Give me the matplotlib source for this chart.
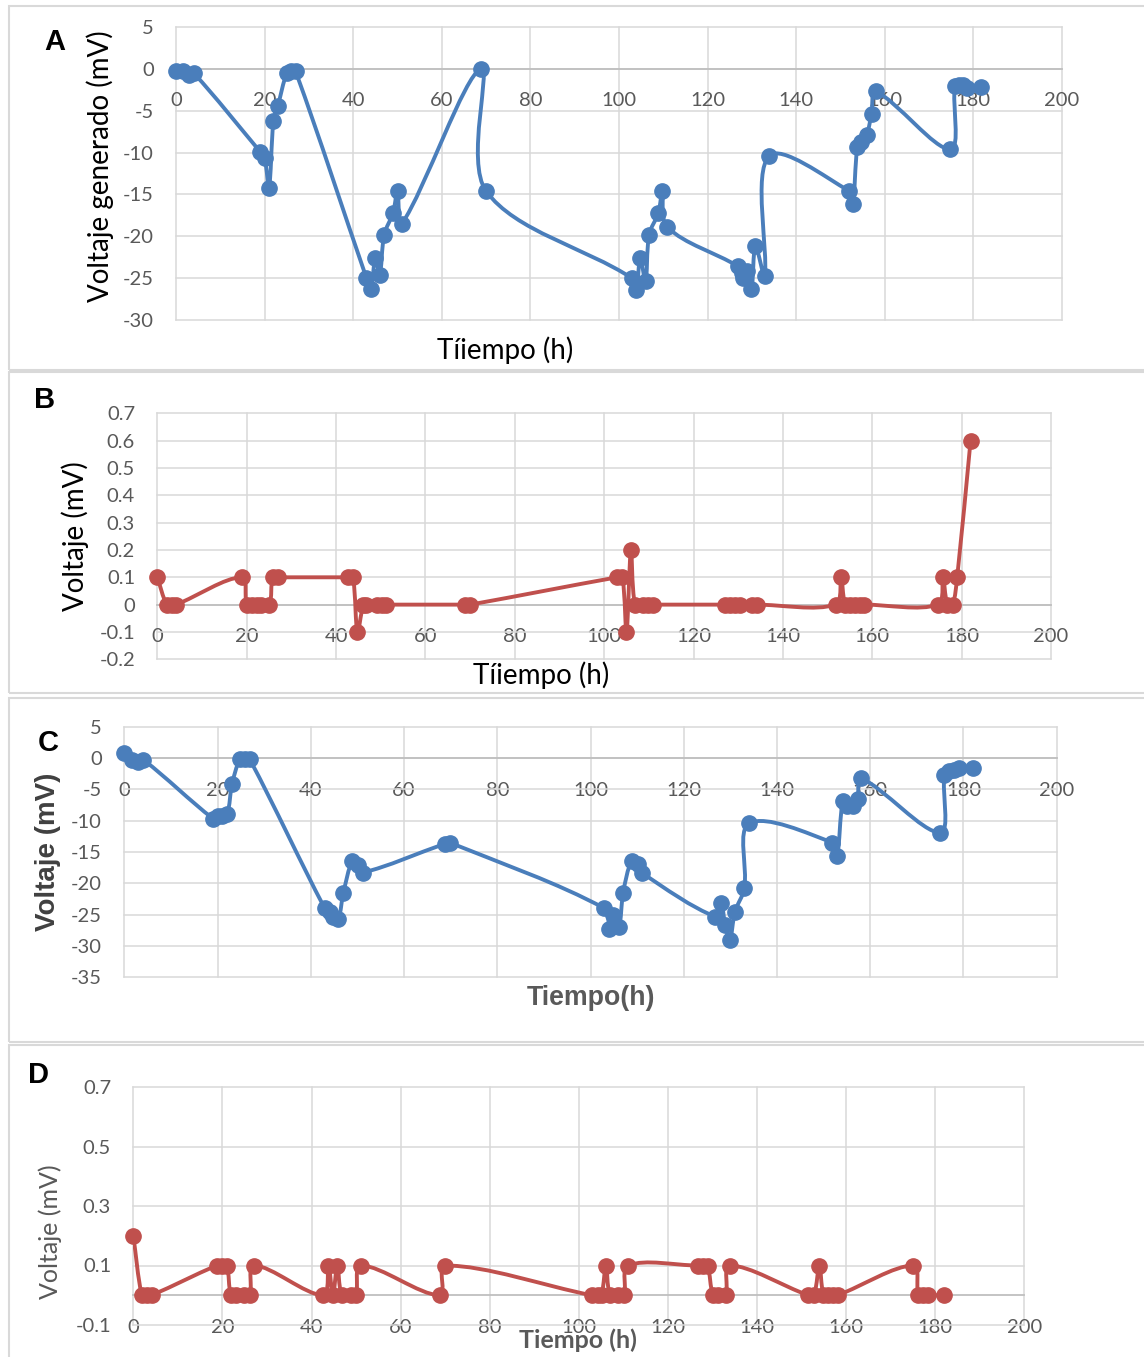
import numpy as np
import matplotlib
matplotlib.use("Agg")
import matplotlib.pyplot as plt
from matplotlib.path import Path
from matplotlib.patches import PathPatch, Rectangle

# ---- datos ----
tA = [0, 1.6, 3, 4, 19, 20, 21, 22, 23, 25, 26, 27, 43, 44, 45, 46, 47, 49, 50, 51,
      68.8, 70, 102.9, 103.9, 104.8, 106, 106.8, 108.9, 109.8, 110.9, 126.9, 127.7,
      128.1, 128.8, 129.9, 130.8, 132.9, 133.9, 152, 152.8, 153.8, 154.7, 155.9, 157,
      158, 174.8, 175.8, 176.8, 177.7, 178.5, 181.8]
vA = [-0.3, -0.3, -0.7, -0.5, -9.9, -10.6, -14.2, -6.2, -4.4, -0.5, -0.3, -0.3,
      -25.0, -26.3, -22.6, -24.6, -19.8, -17.2, -14.6, -18.5, 0.0, -14.6, -25.0, -26.4,
      -22.6, -25.4, -19.8, -17.2, -14.6, -18.9, -23.6, -24.4, -25.0, -24.2, -26.3,
      -21.2, -24.7, -10.4, -14.6, -16.1, -9.3, -8.7, -7.9, -5.4, -2.7, -9.6, -2.0,
      -1.9, -1.9, -2.3, -2.2]

tB = [0, 2.1, 3.2, 4.2, 18.9, 20, 21.1, 22.2, 23.3, 25.1, 25.8, 26.9, 42.7, 43.8,
      44.8, 46.1, 46.8, 49.1, 50.2, 51.2, 68.8, 70, 102.9, 104.1, 105, 106, 106.9,
      108.7, 109.8, 111, 127, 128.1, 129.2, 130.3, 133, 134.1, 151.8, 153, 153.9, 155,
      156.1, 157.2, 158.2, 174.7, 175.8, 176.8, 178, 179, 182]
vB = [0.1, 0, 0, 0, 0.1, 0, 0, 0, 0, 0, 0.1, 0.1, 0.1, 0.1, -0.1, 0, 0, 0, 0, 0,
      0, 0, 0.1, 0.1, -0.1, 0.2, 0, 0, 0, 0, 0, 0, 0, 0, 0, 0, 0, 0.1, 0, 0, 0, 0, 0,
      0, 0.1, 0, 0, 0.1, 0.6]

tC = [0, 1.6, 3, 4.1, 19.1, 20.1, 20.9, 22.1, 23.1, 24.8, 25.9, 26.9, 43, 44.1, 44.8,
      45.9, 47, 48.9, 50.1, 51.1, 68.7, 69.8, 103, 104, 104.8, 106.1, 107, 108.8, 110.1,
      111, 126.7, 128, 128.9, 129.9, 131, 133, 134.1, 151.9, 152.9, 154.1, 155.1, 156.2,
      157.3, 158, 175, 175.9, 176.8, 177.9, 179.1, 182.1]
vC = [0.8, -0.3, -0.7, -0.3, -9.7, -9.3, -9.3, -8.9, -4.2, -0.2, -0.2, -0.2, -24.0,
      -24.5, -25.3, -25.7, -21.5, -16.4, -17.0, -18.3, -13.7, -13.5, -24.0, -27.3,
      -25.0, -26.9, -21.5, -16.4, -16.9, -18.3, -25.3, -23.2, -26.6, -29.0, -24.5,
      -20.8, -10.4, -13.5, -15.6, -6.9, -7.6, -7.6, -6.5, -3.2, -11.9, -2.7, -2.1,
      -1.9, -1.6, -1.6]

tD = [0, 1.9, 3.0, 4.1, 18.7, 19.8, 21, 21.9, 23.1, 24.9, 26.2, 27.1, 42.6, 43.8,
      44.8, 45.8, 46.8, 48.8, 50, 51.1, 68.8, 70, 102.9, 104.2, 105.1, 106.1, 107,
      108.9, 110.2, 111.1, 126.7, 127.8, 128.9, 130.1, 131.3, 133, 133.9, 151.5, 152.8,
      154, 154.9, 156, 157.1, 158.1, 175.1, 176.2, 177.3, 178.4, 182]
vD = [0.2, 0, 0, 0, 0.1, 0.1, 0.1, 0, 0, 0, 0, 0.1, 0, 0.1, 0, 0.1, 0, 0, 0, 0.1,
      0, 0.1, 0, 0, 0, 0.1, 0, 0, 0, 0.1, 0.1, 0.1, 0.1, 0, 0, 0, 0.1, 0, 0, 0.1, 0,
      0, 0, 0, 0.1, 0, 0, 0, 0]

xticks = list(range(0, 201, 20))
yticksA = list(range(-30, 6, 5))
yticksB = [-0.2, -0.1, 0, 0.1, 0.2, 0.3, 0.4, 0.5, 0.6, 0.7]
yticksC = list(range(-35, 6, 5))
yticksD = [-0.1, 0.1, 0.3, 0.5, 0.7]

BLUE = '#4a7ebb'
RED = '#c0504d'
GRID = '#d9d9d9'
TICK = '#595959'
W, H = 1144, 1357

plt.rcParams['font.family'] = ['Lato', 'DejaVu Sans']

fig = plt.figure(figsize=(W / 100, H / 100), dpi=100)


def smooth_path(x, y, sx, sy):
    # linea suavizada tipo Excel: Bezier con tangentes escaladas por la
    # longitud de cada tramo (medida en pixeles)
    p = np.column_stack([x, y]).astype(float)
    q = p * [sx, sy]
    n = len(p)

    def d(i, j):
        return np.hypot(*(q[j] - q[i]))

    verts = [p[0]]
    codes = [Path.MOVETO]
    for i in range(n - 1):
        a = max(i - 1, 0)
        b = min(i + 2, n - 1)
        d12 = d(i, i + 1)
        d01 = d(a, i)
        d23 = d(i + 1, b)
        f1 = d12 / (d01 + d12) / 3 if d01 + d12 > 0 else 0
        f2 = d12 / (d12 + d23) / 3 if d12 + d23 > 0 else 0
        c1 = p[i] + (p[i + 1] - p[a]) * f1
        c2 = p[i + 1] - (p[b] - p[i]) * f2
        verts += [c1, c2, p[i + 1]]
        codes += [Path.CURVE4] * 3
    return Path(verts, codes)


def panel(box, t, v, yticks, ylim, color, ylab_fmt):
    x0, y0, x1, y1 = box
    ax = fig.add_axes([x0 / W, 1 - y1 / H, (x1 - x0) / W, (y1 - y0) / H])
    ax.set_xlim(0, 200)
    ax.set_ylim(*ylim)
    ax.set_xticks(xticks)
    ax.set_yticks(yticks)
    ax.set_yticklabels([ylab_fmt(y) for y in yticks])
    for s in ['top', 'right', 'left']:
        ax.spines[s].set_visible(False)
    ax.spines['bottom'].set_position(('data', 0))
    ax.spines['bottom'].set_color('#bfbfbf')
    ax.spines['bottom'].set_linewidth(1.3)
    ax.grid(True, color=GRID, lw=1.1)
    for gl in ax.get_xgridlines() + ax.get_ygridlines():
        gl.set_clip_on(False)
    ax.tick_params(length=0, labelsize=14.5, labelcolor=TICK)
    ax.tick_params(axis='x', pad=17)
    ax.tick_params(axis='y', pad=16)
    ax.set_axisbelow(True)
    sx = (x1 - x0) / 200.0
    sy = (y1 - y0) / (ylim[1] - ylim[0])
    ax.add_patch(PathPatch(smooth_path(t, v, sx, sy), fill=False, edgecolor=color,
                           lw=2.8, capstyle='round', joinstyle='round', zorder=3))
    ax.plot(t, v, 'o', color=color, ms=11, zorder=4, clip_on=False)
    return ax


def fmt_int(y):
    return str(int(y))


def fmt_dec(y):
    return '0' if abs(y) < 1e-9 else ('%.1f' % y)


panel((176, 27, 1062, 320), tA, vA, yticksA, (-30, 5), BLUE, fmt_int)
panel((157.3, 413.3, 1051, 659.3), tB, vB, yticksB, (-0.2, 0.7), RED, fmt_dec)
panel((124.3, 726.7, 1056.7, 977.3), tC, vC, yticksC, (-35, 5), BLUE, fmt_int)
panel((133.3, 1087, 1024.3, 1325), tD, vD, yticksD, (-0.1, 0.7), RED, fmt_dec)

# marcos de cada grafico
for (bx0, by0, bx1, by1) in [(9, 6, 1150, 370), (9, 372, 1150, 693),
                             (9, 698, 1150, 1042), (9, 1045, 1150, 1365)]:
    fig.add_artist(Rectangle((bx0 / W, 1 - by1 / H), (bx1 - bx0) / W, (by1 - by0) / H,
                             transform=fig.transFigure, fill=False,
                             edgecolor='#d9d9d9', lw=1.5))


def ftext(x, y, s, **kw):
    fig.text(x / W, 1 - y / H, s, ha='center', va='center', **kw)


# etiquetas de panel
for (x, y, s) in [(55, 42, 'A'), (45, 400, 'B'), (48, 743, 'C'), (38, 1075, 'D')]:
    ftext(x, y, s, fontsize=21, fontweight='bold', family='Liberation Sans', color='black')

# titulos de ejes
ftext(100, 166, 'Voltaje generado (mV)', rotation=90, fontsize=20, color='black')
ftext(505, 350, 'Tíiempo (h)', fontsize=20, color='black')
ftext(75, 536, 'Voltaje (mV)', rotation=90, fontsize=20, color='black')
ftext(541, 675, 'Tíiempo (h)', fontsize=20, color='black')
ftext(48, 852, 'Voltaje (mV)', rotation=90, fontsize=20, fontweight='bold',
      family='Liberation Sans', color='#404040')
ftext(591, 998, 'Tiempo(h)', fontsize=19.3, fontweight='bold',
      family='Liberation Sans', color=TICK)
ftext(50, 1232, 'Voltaje (mV)', rotation=90, fontsize=18, color=TICK)
ftext(578, 1340, 'Tiempo (h)', fontsize=18, fontweight='bold', color=TICK)

fig.savefig('out.png', dpi=100, facecolor='white')
